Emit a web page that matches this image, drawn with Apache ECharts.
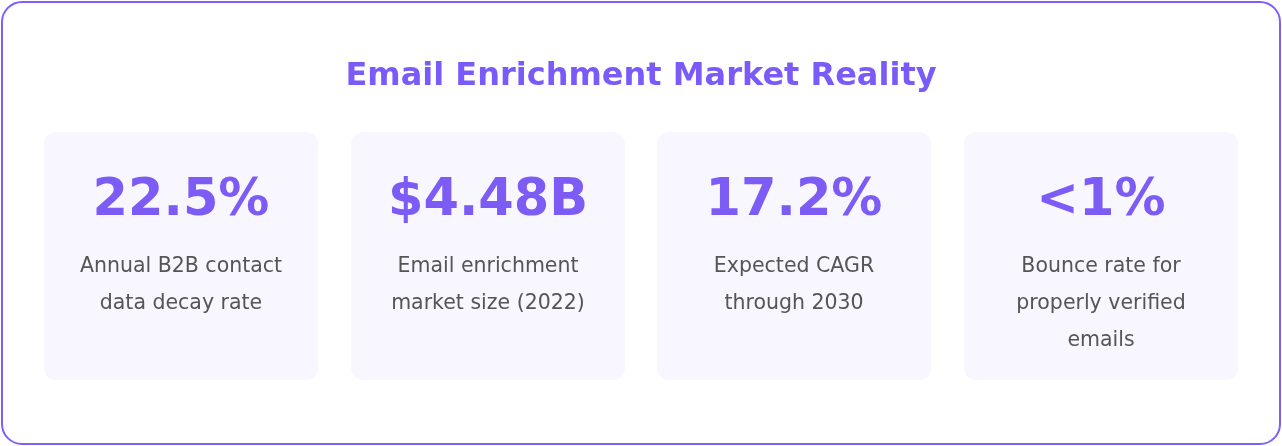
<!DOCTYPE html>
<html><head><meta charset="utf-8">
<script src="https://cdn.jsdelivr.net/npm/echarts@6/dist/echarts.min.js"></script>
<style>html,body{margin:0;padding:0;background:#fff}#main{width:1282px;height:446px}</style>
</head><body><div id="main"></div>
<script>
// stat cards
var title = 'Email Enrichment Market Reality';
var values = ['22.5%', '$4.48B', '17.2%', '<1%'];
var labels = [
  ['Annual B2B contact', 'data decay rate'],
  ['Email enrichment', 'market size (2022)'],
  ['Expected CAGR', 'through 2030'],
  ['Bounce rate for', 'properly verified', 'emails']
];

var chart = echarts.init(document.getElementById('main'));
var font = '"DejaVu Sans", Verdana, sans-serif';
var cardX = [44, 351, 657, 964], cardW = 274;
var els = [{
  type: 'rect', shape: {x: 2, y: 2, width: 1278, height: 442, r: 20},
  style: {fill: '#fff', stroke: '#7f5ff7', lineWidth: 2}
}, {
  type: 'text', x: 641, y: 77,
  style: {text: title, fill: '#7a5af8', font: 'bold 32px ' + font, align: 'center', verticalAlign: 'middle'}
}];
values.forEach(function (v, i) {
  var cx = cardX[i] + cardW / 2;
  els.push({type: 'rect', shape: {x: cardX[i], y: 132, width: cardW, height: 248, r: 12},
    style: {fill: '#f8f6fe'}});
  els.push({type: 'text', x: cx, y: 202,
    style: {text: v, fill: '#7c5cf5', font: 'bold 51px ' + font, align: 'center', verticalAlign: 'middle'}});
  labels[i].forEach(function (l, j) {
    els.push({type: 'text', x: cx, y: 267 + j * 37,
      style: {text: l, fill: '#555', font: '20.5px ' + font, align: 'center', verticalAlign: 'middle'}});
  });
});
chart.setOption({graphic: {elements: els}});
</script></body></html>
